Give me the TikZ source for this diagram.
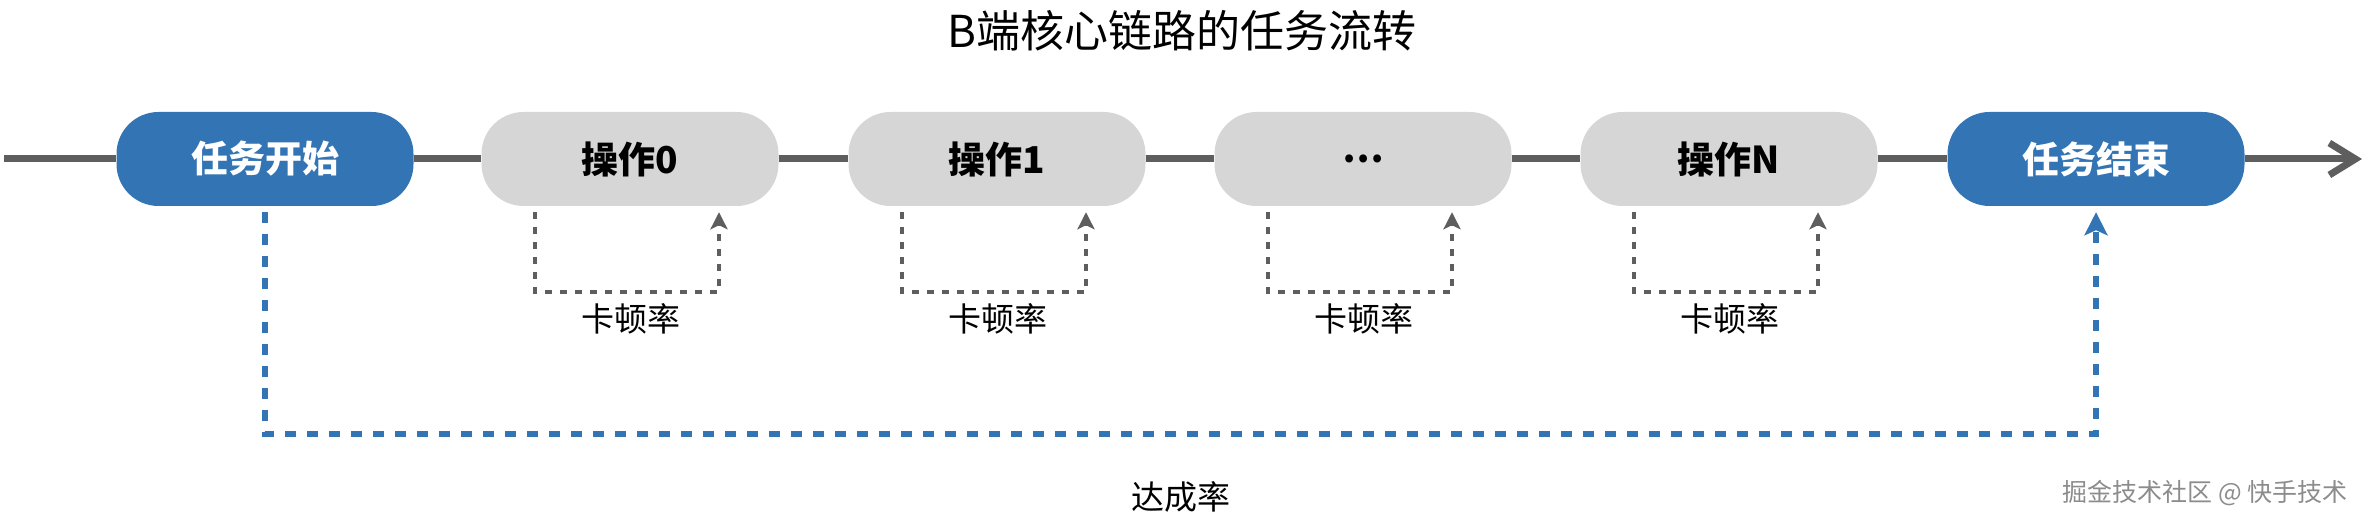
\documentclass[tikz,border=0pt]{standalone}
\usepackage{fontspec}
\setmainfont{Noto Sans CJK SC}
\usetikzlibrary{arrows.meta}

\definecolor{taskblue}{RGB}{50,116,180}
\definecolor{opgray}{RGB}{214,214,214}
\definecolor{linegray}{RGB}{94,94,94}
\definecolor{markgray}{RGB}{140,140,140}

\begin{document}
\begin{tikzpicture}%
        [x={(1pt, 0pt)},
        y={(0pt, -1pt)},
        mainline/.style={color=linegray, line width=7pt},
        taskbox/.style={rectangle, rounded corners=42pt, fill=taskblue, text=white, minimum width=297pt, minimum height=94pt, inner sep=0pt, font=\fontsize{37pt}{40pt}\selectfont\bfseries},
        opbox/.style={taskbox, fill=opgray, text=black},
        stallline/.style={color=linegray, line width=4pt, dash pattern=on 7pt off 8pt, -{Stealth[length=17pt, width=17pt, inset=4pt]}},
        reachline/.style={color=taskblue, line width=6pt, dash pattern=on 11pt off 11pt, -{Stealth[length=23pt, width=23pt, inset=5pt]}},
        ratelabel/.style={inner sep=0pt, font=\fontsize{33pt}{36pt}\selectfont}]

    \useasboundingbox (0,0) rectangle (2366,526);

    %% Title
    \node[inner sep=0pt, font=\fontsize{44pt}{48pt}\selectfont] (title) at (1182,31) {B端核心链路的任务流转};
    %%
    %% Drawing the task chain
    %%
    \node[taskbox] (start) at (265,159) {任务开始};
    \node[opbox] (op0) at (630,159) {操作0};
    \node[opbox] (op1) at (997,159) {操作1};
    \node[opbox] (opdots) at (1363,159) {…};
    \node[opbox] (opN) at (1729,159) {操作N};
    \node[taskbox] (finish) at (2096,159) {任务结束};
    \coordinate (lineleft) at (4,159);
    \coordinate (linetip) at (2362,159);
    \draw[mainline] (lineleft) -- (start);
    \draw[mainline] (start) -- (op0);
    \draw[mainline] (op0) -- (op1);
    \draw[mainline] (op1) -- (opdots);
    \draw[mainline] (opdots) -- (opN);
    \draw[mainline] (opN) -- (finish);
    \draw[mainline, -{Straight Barb[length=26pt, width=32pt]}] (finish) -- (linetip);
    %%
    %% Stall loops under the operations
    %%
    \draw[stallline] ([xshift=-95pt, yshift=-6pt]op0.south) -- ++(0,80) -| ([xshift=89pt, yshift=-6pt]op0.south);
    \draw[stallline] ([xshift=-95pt, yshift=-6pt]op1.south) -- ++(0,80) -| ([xshift=89pt, yshift=-6pt]op1.south);
    \draw[stallline] ([xshift=-95pt, yshift=-6pt]opdots.south) -- ++(0,80) -| ([xshift=89pt, yshift=-6pt]opdots.south);
    \draw[stallline] ([xshift=-95pt, yshift=-6pt]opN.south) -- ++(0,80) -| ([xshift=89pt, yshift=-6pt]opN.south);
    \node[ratelabel] (stall0) at (631,319) {卡顿率};
    \node[ratelabel] (stall1) at (998,319) {卡顿率};
    \node[ratelabel] (stalldots) at (1364,319) {卡顿率};
    \node[ratelabel] (stallN) at (1730,319) {卡顿率};
    %%
    %% Reach loop from start to finish
    %%
    \draw[reachline] ([yshift=-6pt]start.south) -- ++(0,222) -| ([yshift=-6pt]finish.south);
    \node[ratelabel] (reach) at (1181,497) {达成率};
    %%
    \node[inner sep=0pt, text=markgray, font=\fontsize{25pt}{28pt}\selectfont] (mark) at (2205,493) {掘金技术社区 @ 快手技术};
    %%
\end{tikzpicture}
\end{document}
